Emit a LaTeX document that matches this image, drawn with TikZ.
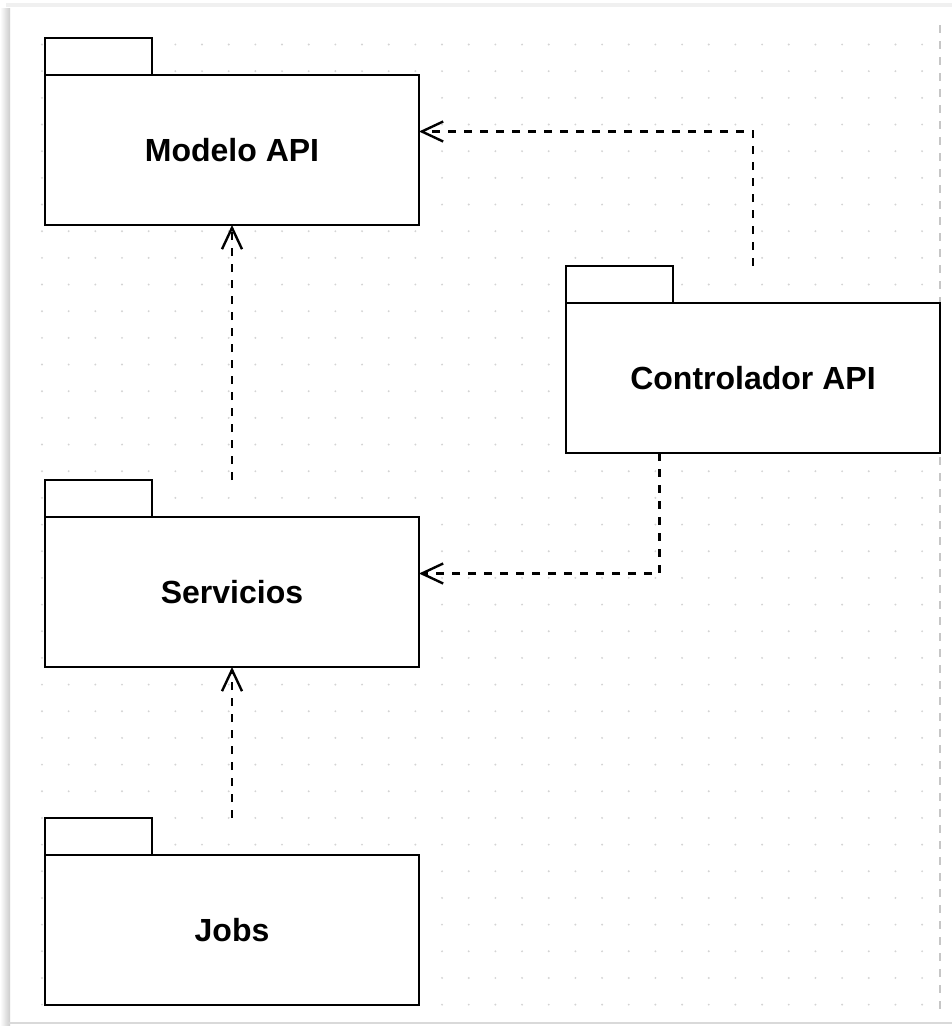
\documentclass[tikz,border=0pt]{standalone}
\usepackage{fontspec}
\setmainfont{Liberation Sans}
\usetikzlibrary{arrows.meta,calc}
\begin{document}
\begin{tikzpicture}[x=0.75pt, y=-0.75pt,
  pkg/.style={draw, line width=1.8pt, fill=white, anchor=north west, outer sep=0pt, minimum width=280.5pt, minimum height=112.5pt, inner sep=0pt, font=\bfseries\fontsize{24}{28}\selectfont},
  pkgtab/.style={draw, line width=1.8pt, fill=white, anchor=south west, outer sep=0pt, minimum width=80.25pt, minimum height=27.75pt, inner sep=0pt},
  dep/.style={line width=1.8pt, dash pattern=on 6pt off 6pt, -{Straight Barb[length=16pt, width=15pt, line width=1.8pt]}}]
\useasboundingbox (0,0) rectangle (952,1026);
\definecolor{col}{HTML}{D4D4D4}
\fill[white] (0,0) rectangle (952,1026);
\shade[left color=white, right color=gray!40] (0,8) rectangle (10,1026);
\fill[gray!12] (6,3) rectangle (952,7);
\draw[gray!30, line width=1.2pt] (8,1023) -- (952,1023);
\foreach \i in {0,...,33} \foreach \j in {0,...,36}
  \fill[col] (42+26.67*\i, 44.5+26.67*\j) circle (0.8pt);
\draw[gray!45, line width=1.5pt, dash pattern=on 6pt off 6pt] (940,25) -- (940,1010);
\node[pkg] (modelo) at (45,75) {Modelo API};
\node[pkgtab] (modelotab) at (modelo.north west) {};
\node[pkg] (controlador) at (566,303) {Controlador API};
\node[pkgtab] (controladortab) at (controlador.north west) {};
\node[pkg] (servicios) at (45,517) {Servicios};
\node[pkgtab] (serviciostab) at (servicios.north west) {};
\node[pkg] (jobs) at (45,855) {Jobs};
\node[pkgtab] (jobstab) at (jobs.north west) {};
\draw[dep] (controladortab.north -| controlador.north) |- ($(modelo.east)+(0,-18.5)$);
\draw[dep] ($(controlador.south west)!0.25!(controlador.south east)$) |- ($(servicios.east)+(0,-18.5)$);
\draw[dep] (servicios.north |- serviciostab.north) -- (modelo.south);
\draw[dep] (jobs.north |- jobstab.north) -- (servicios.south);
\end{tikzpicture}
\end{document}
